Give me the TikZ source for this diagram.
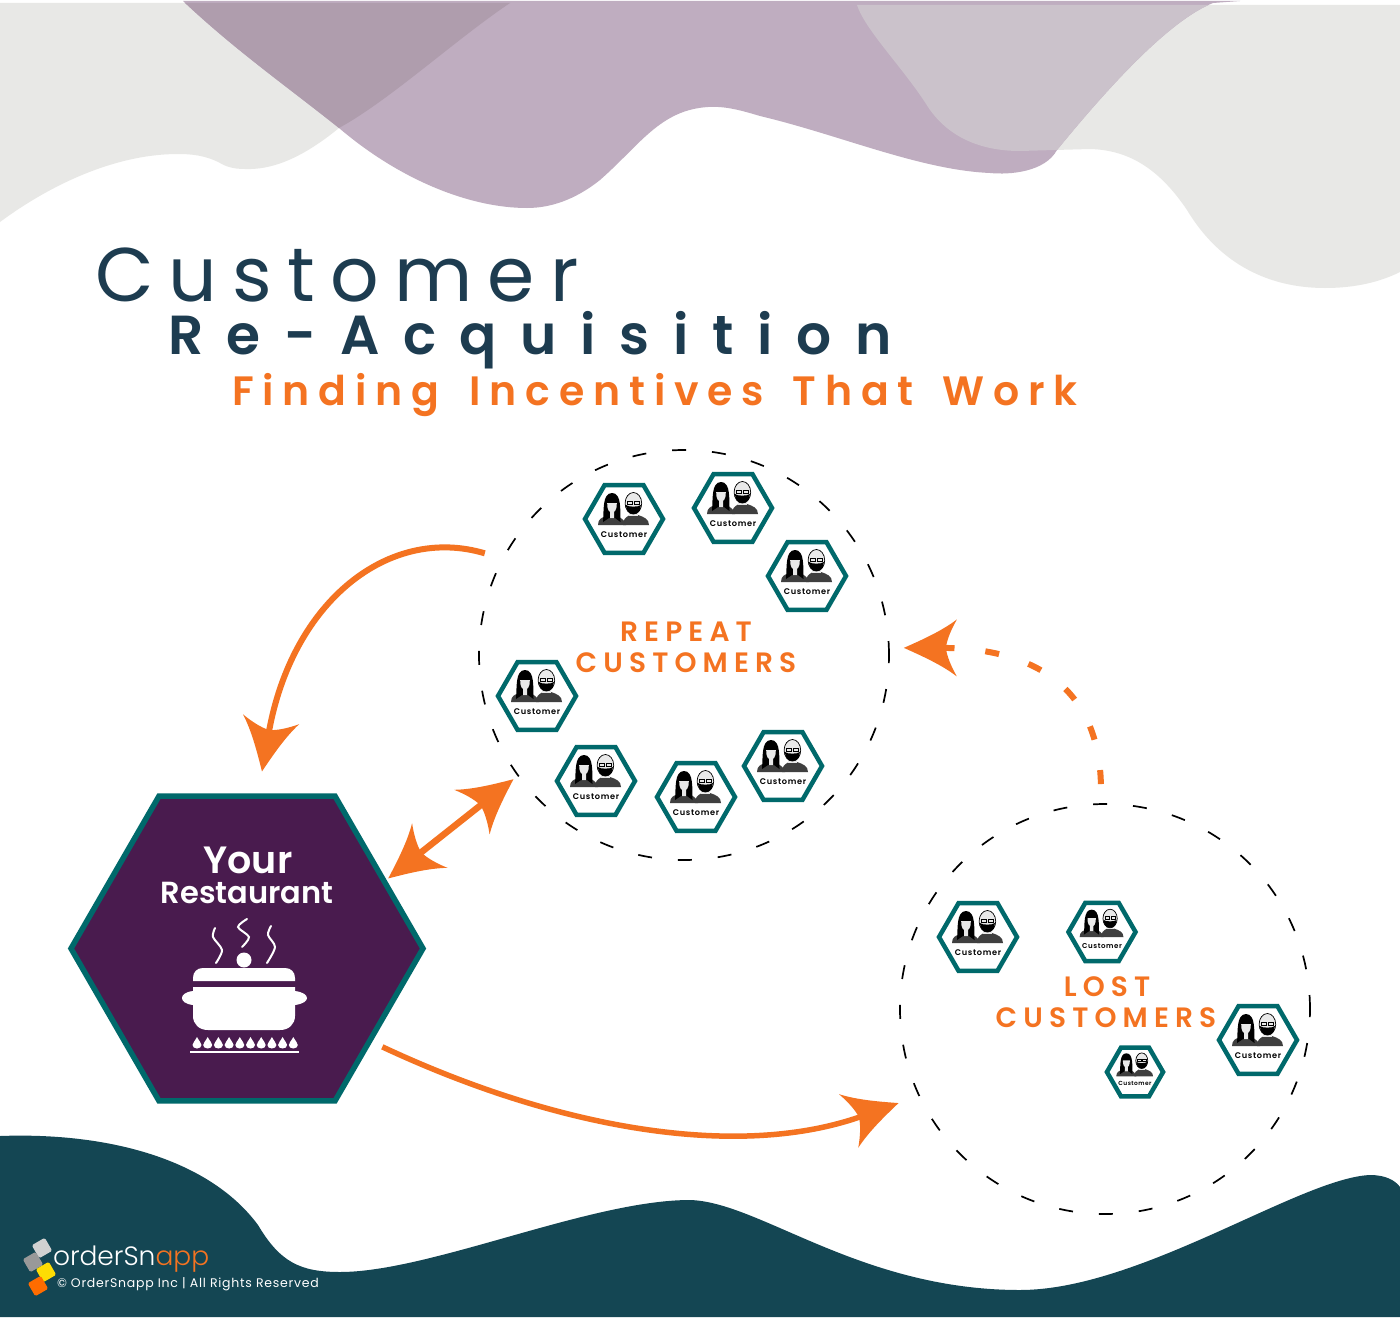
\documentclass[tikz,border=0pt]{standalone}
\usepackage{fontspec}
\usetikzlibrary{arrows.meta,shapes.geometric}
\setmainfont{Poppins}
\newfontfamily\fCust[LetterSpace=20]{Poppins}
\newfontfamily\fRe[LetterSpace=43]{Poppins SemiBold}
\newfontfamily\fFind[LetterSpace=21.5]{Poppins SemiBold}
\newfontfamily\fGroup[LetterSpace=22]{Poppins SemiBold}
\newfontfamily\fYour{Poppins SemiBold}
\newfontfamily\fLogo{Poppins Light}
\newfontfamily\fCopy[LetterSpace=6]{Poppins}
\newfontfamily\fLbl[LetterSpace=8]{Poppins SemiBold}
\definecolor{orng}{HTML}{F47321}
\definecolor{navy}{HTML}{1D3C50}
\definecolor{hexteal}{HTML}{00696B}
\definecolor{plum}{HTML}{491B4E}
\definecolor{deepteal}{HTML}{144653}
\definecolor{blobgray}{HTML}{E8E8E6}
\definecolor{blobpurple}{HTML}{BFADC0}
\definecolor{overdark}{HTML}{AF9DAD}
\definecolor{overlight}{HTML}{CBC2CB}
\definecolor{skin}{HTML}{E9E9E9}
\definecolor{cloth}{HTML}{3F3F3F}
\pgfdeclarearrow{
  name=Swept,
  setup code={
    \pgfarrowssettipend{0pt}
    \pgfarrowssetlineend{-38pt}
    \pgfarrowssetvisualbackend{-42pt}
    \pgfarrowssetbackend{-53pt}
  },
  drawing code={
    \pgfpathmoveto{\pgfpoint{0pt}{0pt}}
    \pgfpathcurveto{\pgfpoint{-18pt}{8pt}}{\pgfpoint{-38pt}{17pt}}{\pgfpoint{-53pt}{28.5pt}}
    \pgfpathcurveto{\pgfpoint{-47pt}{18pt}}{\pgfpoint{-43pt}{8pt}}{\pgfpoint{-42pt}{0pt}}
    \pgfpathcurveto{\pgfpoint{-43pt}{-8pt}}{\pgfpoint{-47pt}{-18pt}}{\pgfpoint{-53pt}{-28.5pt}}
    \pgfpathcurveto{\pgfpoint{-38pt}{-17pt}}{\pgfpoint{-18pt}{-8pt}}{\pgfpoint{0pt}{0pt}}
    \pgfpathclose
    \pgfusepathqfill
  }
}
\tikzset{
  flow/.style={draw=orng,color=orng,line width=6pt},
  zone/.style={circle,draw=black,line width=1.7pt,dash pattern=on 14pt off 26pt,minimum size=410pt,inner sep=0pt,outer sep=0pt},
  heading/.style={anchor=base west,inner sep=0pt,outer sep=0pt},
  centred/.style={anchor=base,inner sep=0pt,outer sep=0pt},
  potpart/.style={fill=white,draw=none},
  steam/.style={draw=white,line width=2pt,line cap=round},
  logosq/.style={rectangle,rounded corners=1.5pt,minimum size=15pt,inner sep=0pt,outer sep=0pt,rotate=30},
  cust/.pic={
    \node[regular polygon,regular polygon sides=6,minimum size=78pt,inner sep=0pt,outer sep=0pt,
      draw=hexteal,fill=white,line width=4.5pt,transform shape] (-hex) at (0,0) {};
    % man
    \fill[cloth] (-1,6) .. controls (-1,0) and (2,-2) .. (6,-4) -- (14,-4) .. controls (20,-2) and (25,0) .. (25,6) -- cycle;
    \fill[skin] (5,-8) rectangle (14,-3);
    \filldraw[fill=skin,draw=black,line width=.7pt] (9.4,-15.7) ellipse [x radius=8.3,y radius=10.8];
    \fill[black] (1.9,-14) .. controls (2.2,-8) and (5,-5) .. (9.4,-5) .. controls (13.8,-5) and (16.6,-8) .. (16.9,-14)
      .. controls (14.5,-11.8) and (4.3,-11.8) .. cycle;
    \filldraw[fill=skin,draw=black,line width=.5pt] (3.4,-18) rectangle (8.6,-15);
    \filldraw[fill=skin,draw=black,line width=.5pt] (10.2,-18) rectangle (15.4,-15);
    % woman
    \fill[cloth] (-26,6) .. controls (-26,0) and (-22,-2) .. (-17,-3) -- (-7,-3) .. controls (-2,-1) and (1,2) .. (2,6) -- cycle;
    \fill[black] (-21,3) .. controls (-20,-8) and (-22,-26) .. (-12,-26) .. controls (-2,-26) and (-4,-8) .. (-3.5,3)
      -- (-9,-1) -- (-15,-1) -- cycle;
    \fill[skin] (-16.8,-16) -- (-7.2,-16) -- (-7.4,-12) .. controls (-7.6,-9) and (-9.5,-7.5) .. (-10,-7) -- (-10,-1) -- (-14,-1) -- (-14,-7)
      .. controls (-15,-8) and (-16.4,-9) .. (-16.6,-12) -- cycle;
    \node[inner sep=0pt,font=\fLbl\fontsize{8.2pt}{9pt}\selectfont,text=black,transform shape] (-lbl) at (0,16) {Customer};
  }
}
\newcommand{\purpleblob}{(183,1) -- (1240,1) -- (1213,3) .. controls (1170,20) and (1110,85) .. (1057,150) .. controls (1045,172) and (1010,175) .. (990,173) .. controls (920,170) and (840,135) .. (760,116) .. controls (740,110) and (725,106) .. (708,107) .. controls (660,110) and (640,145) .. (600,180) .. controls (575,200) and (550,208) .. (527,208) .. controls (470,208) and (400,180) .. (339,128) .. controls (285,85) and (235,50) .. (183,1) -- cycle}
\newcommand{\leftblob}{(0,3) -- (510,3) .. controls (455,40) and (390,100) .. (339,128) .. controls (300,160) and (270,170) .. (245,169) .. controls (232,169) and (225,166) .. (220,163) .. controls (205,155) and (190,154) .. (178,154) .. controls (115,154) and (50,185) .. (0,222) -- cycle}
\newcommand{\rightblob}{(857,5) -- (1400,5) -- (1400,272) .. controls (1380,282) and (1355,288) .. (1325,288) .. controls (1270,288) and (1220,265) .. (1187,210) .. controls (1160,170) and (1130,150) .. (1090,149) -- (1020,151) .. controls (985,151) and (950,140) .. (928,107) .. controls (905,70) and (865,30) .. (857,5) -- cycle}
\begin{document}
\begin{tikzpicture}[x=1pt,y=-1pt]
\useasboundingbox (0,0) rectangle (1400,1319);
\fill[white] (0,0) rectangle (1400,1319);
% backgrounds
\fill[blobgray] \leftblob;
\fill[blobgray] \rightblob;
\fill[blobpurple] \purpleblob;
\begin{scope}
  \clip \purpleblob;
  \fill[overdark] \leftblob;
  \fill[overlight] \rightblob;
\end{scope}
\fill[deepteal] (0,1317) -- (0,1136) .. controls (110,1132) and (210,1160) .. (258,1225) .. controls (280,1262) and (300,1272) .. (340,1272) .. controls (430,1272) and (590,1200) .. (690,1200) .. controls (760,1202) and (860,1290) .. (1020,1290) .. controls (1140,1290) and (1300,1178) .. (1370,1175) .. controls (1385,1175) and (1395,1180) .. (1400,1187) -- (1400,1317) -- cycle;
% titles
\node[heading,text=navy,font=\fCust\fontsize{76pt}{80pt}\selectfont] (t1) at (95,301) {Customer};
\node[heading,text=navy,font=\fRe\fontsize{55pt}{60pt}\selectfont] (t2) at (168,354) {Re-Acquisition};
\node[heading,text=orng,font=\fFind\fontsize{41pt}{45pt}\selectfont] (t3) at (232,405) {Finding\hspace*{12pt} Incentives\hspace*{10pt} That\hspace*{10pt} Work};
% zones
\node[zone] (rep) at (684,655) {};
\node[zone] (lost) at (1105,1009) {};
\node[centred,text=orng,font=\fGroup\fontsize{28pt}{30pt}\selectfont] (repA) at (686,641) {REPEAT};
\node[centred,text=orng,font=\fGroup\fontsize{28pt}{30pt}\selectfont] (repB) at (686,672) {CUSTOMERS};
\node[centred,text=orng,font=\fGroup\fontsize{28pt}{30pt}\selectfont] (lostA) at (1107,996) {LOST};
\node[centred,text=orng,font=\fGroup\fontsize{28pt}{30pt}\selectfont] (lostB) at (1106,1027) {CUSTOMERS};
% customers
\pic (c1) at (624,519) {cust};
\pic (c2) at (733,508) {cust};
\pic (c3) at (807,576) {cust};
\pic (c4) at (537,696) {cust};
\pic (c5) at (596,781) {cust};
\pic (c6) at (696,797) {cust};
\pic (c7) at (783,766) {cust};
\pic (c8) at (978,937) {cust};
\pic (c9) at (1258,1040) {cust};
\pic (c10) at (1102,932) [scale=.86,transform shape] {cust};
\pic (c11) at (1135,1072) [scale=.72,transform shape] {cust};
% restaurant
\node[regular polygon,regular polygon sides=6,minimum size=352pt,inner sep=0pt,outer sep=0pt,draw=hexteal,fill=plum,line width=5.5pt] (rest) at (247,948.5) {};
\node[centred,text=white,font=\fYour\fontsize{38pt}{40pt}\selectfont] (yr) at (248,873) {Your};
\node[centred,text=white,font=\fYour\fontsize{30.5pt}{32pt}\selectfont] (rt) at (247,903) {Restaurant};
% pot
\fill[potpart] (193,981) -- (193,978) .. controls (193,972) and (197,968) .. (203,968) -- (285,968) .. controls (291,968) and (295,972) .. (295,978) -- (295,981) -- cycle;
\fill[potpart] (193,987) -- (193,1016) .. controls (193,1024) and (199,1030) .. (208,1030) -- (280,1030) .. controls (289,1030) and (295,1024) .. (295,1016) -- (295,987) -- cycle;
\fill[potpart] (193,991) .. controls (185,992) and (182,995) .. (182,998) .. controls (182,1001) and (185,1004) .. (193,1005) -- cycle;
\fill[potpart] (295,991) .. controls (303,992) and (307,995) .. (307,998) .. controls (307,1001) and (303,1004) .. (295,1005) -- cycle;
\fill[potpart] (244,960) circle [radius=7.5];
\draw[steam] plot[smooth] coordinates {(216,963) (222,950) (213,937) (215,928)};
\draw[steam] plot[smooth] coordinates {(242,947) (249,937) (238,927) (247,919)};
\draw[steam] plot[smooth] coordinates {(267,963) (275,947) (268,935) (271,926)};
\foreach \fx in {197,207.7,218.4,229.1,239.8,250.5,261.2,271.9,282.6,293.3}{
  \fill[potpart] (\fx,1037) .. controls (\fx+2,1041) and (\fx+4.5,1043) .. (\fx+4.5,1045) .. controls (\fx+4.5,1047) and (\fx+2.5,1048.5) .. (\fx,1048.5)
    .. controls (\fx-2.5,1048.5) and (\fx-4.5,1047) .. (\fx-4.5,1045) .. controls (\fx-4.5,1043) and (\fx-2,1041) .. (\fx,1037) -- cycle;
}
\draw[draw=white,line width=1.6pt] (190,1052) -- (299,1052);
% connectors
\draw[flow,-{Swept},shorten <=19pt,shorten >=25pt] (rep.152) .. controls (390,525) and (292,600) .. (rest.86);
\draw[flow,line width=6.5pt,{Swept}-{Swept},shorten <=5pt,shorten >=6pt] (rest.26) -- (rep.216);
\draw[flow,line width=5.5pt,-{Swept},shorten <=14pt,shorten >=22pt] (rest.-37) .. controls (560,1130) and (740,1160) .. (lost.205);
\draw[flow,line width=6pt,dash pattern=on 14pt off 31pt,-{Swept},shorten <=20pt,shorten >=15pt] (lost.91) .. controls (1098,670) and (1010,648) .. (rep.2);
% logo
\node[logosq,fill=black!18] (lg1) at (42,1248) {};
\node[logosq,fill=black!40] (lg2) at (33,1262) {};
\node[logosq,fill=yellow!80!orange] (lg3) at (46,1272) {};
\node[logosq,fill=orange!85!red] (lg4) at (38,1286) {};
\node[heading,text=white,font=\fLogo\fontsize{26.5pt}{30pt}\selectfont] (lg) at (53,1265) {orderSn\textcolor{orng}{app}};
\node[heading,text=white,font=\fCopy\fontsize{12.5pt}{14pt}\selectfont] (copy) at (57,1287) {© OrderSnapp Inc | All Rights Reserved};
\end{tikzpicture}
\end{document}
